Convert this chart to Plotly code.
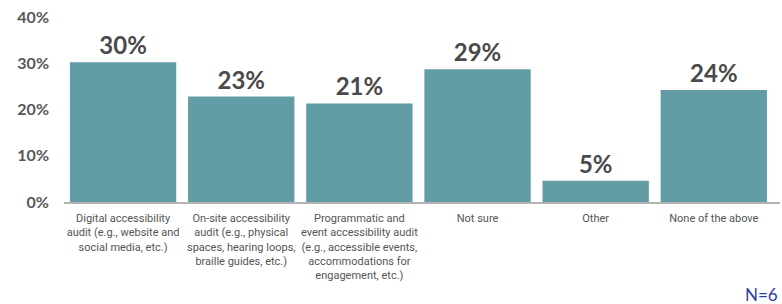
import plotly.graph_objects as go

categories = [
    "Digital accessibility<br>audit (e.g., website and<br>social media, etc.)",
    "On-site accessibility<br>audit (e.g., physical<br>spaces, hearing loops,<br>braille guides, etc.)",
    "Programmatic and<br>event accessibility audit<br>(e.g., accessible events,<br>accommodations for<br>engagement, etc.)",
    "Not sure",
    "Other",
    "None of the above",
]
values = [30.2, 22.8, 21.3, 28.7, 4.6, 24.2]
y_ticks = [0, 10, 20, 30, 40]
y_tick_labels = ["0%", "10%", "20%", "30%", "40%"]
note_text = "N=6"

BAR = "#629ca4"
fig = go.Figure(
    go.Bar(
        x=list(range(len(categories))),
        y=values,
        marker=dict(color=BAR, line=dict(width=0)),
        texttemplate="%{y:.0f}%",
        textposition="outside",
        textfont=dict(family="Lato, sans-serif", size=24, color="#4a4a4a", weight="bold"),
        cliponaxis=False,
        hoverinfo="skip",
    )
)

fig.update_layout(
    width=782,
    height=304,
    margin=dict(l=64, r=2, t=17, b=102, autoexpand=False),
    paper_bgcolor="white",
    plot_bgcolor="white",
    bargap=0.1,
    showlegend=False,
    xaxis=dict(
        tickmode="array",
        tickvals=list(range(len(categories))),
        ticktext=categories,
        range=[-0.5, 5.56],
        automargin=False,
        showline=True,
        linecolor="#b3b3b3",
        linewidth=1.5,
        showgrid=False,
        zeroline=False,
        ticks="",
        tickangle=0,
        ticklabelstandoff=5,
        tickfont=dict(family="Roboto, sans-serif", size=11, color="#555555"),
    ),
    yaxis=dict(
        range=[0, 40],
        tickmode="array",
        tickvals=y_ticks,
        ticktext=y_tick_labels,
        automargin=False,
        showgrid=False,
        zeroline=False,
        showline=False,
        ticks="",
        ticklabelstandoff=14,
        tickfont=dict(family="Lato, sans-serif", size=16, color="#575757", weight="bold"),
    ),
    annotations=[
        dict(
            text=note_text,
            xref="paper", yref="paper",
            x=0.949, y=-0.5,
            xanchor="left", yanchor="middle",
            showarrow=False,
            font=dict(family="Lato, sans-serif", size=17, color="#2b3fa0"),
        )
    ],
)

fig.write_html(
    "out.html",
    config={"displayModeBar": False},
    post_script="document.body.style.margin='0';",
)
